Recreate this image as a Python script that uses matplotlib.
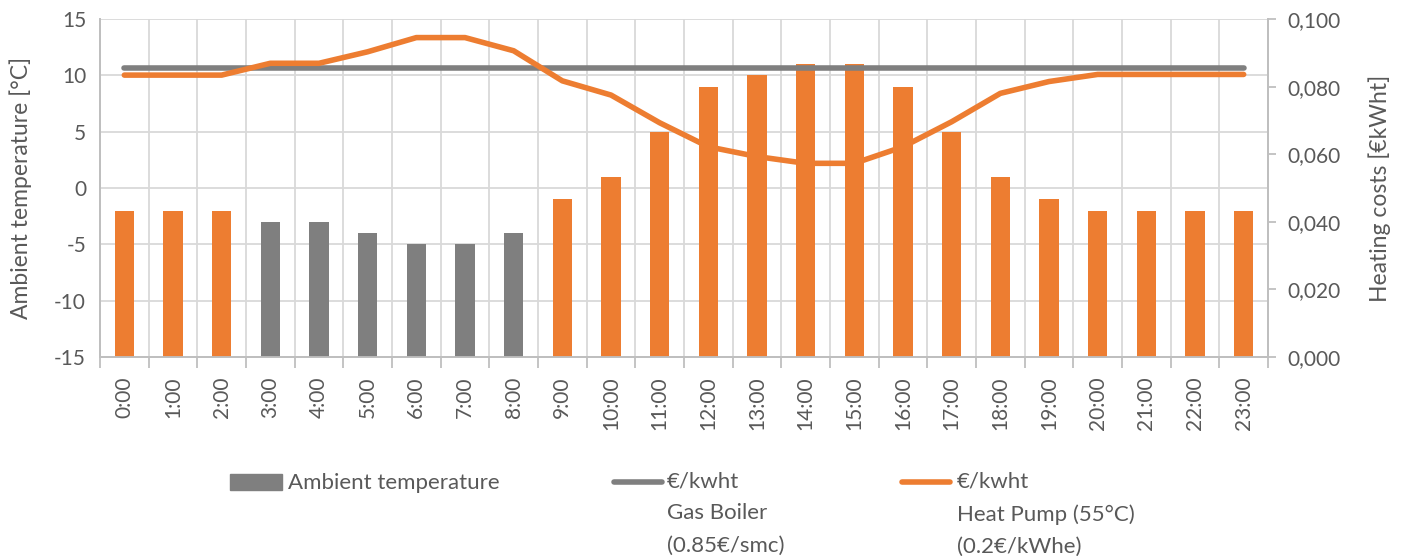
import matplotlib
matplotlib.use("Agg")
import matplotlib.pyplot as plt
from matplotlib.lines import Line2D
from matplotlib.patches import Rectangle
from matplotlib.ticker import FuncFormatter

hours = [f"{h}:00" for h in range(24)]
ambient_temp = [-2, -2, -2, -3, -3, -4, -5, -5, -4, -1, 1, 5, 9, 10, 11, 11, 9, 5, 1, -1, -2, -2, -2, -2]
gas_boiler_cost = [0.0854] * 24
heat_pump_cost = [0.0834, 0.0834, 0.0834, 0.0869, 0.0869, 0.0903, 0.0945, 0.0945, 0.0906,
                  0.0817, 0.0775, 0.0693, 0.0622, 0.0593, 0.0573, 0.0573, 0.0622, 0.0696,
                  0.0780, 0.0815, 0.0836, 0.0836, 0.0836, 0.0836]

ORANGE = "#ED7D31"
GRAY = "#7F7F7F"
GRID = "#D9D9D9"
AXIS = "#BFBFBF"
TEXT = "#595959"

plt.rcParams["font.family"] = ["Lato", "DejaVu Sans"]
plt.rcParams["axes.unicode_minus"] = False

TICK_FS = 15
LABEL_FS = 16.5
LEGEND_FS = 16

fig = plt.figure(figsize=(14.04, 5.56), dpi=100)
ax = fig.add_axes([100 / 1404, 1 - 357 / 556, (1268 - 100) / 1404, (357 - 19) / 556])
ax2 = ax.twinx()

x = list(range(len(hours)))
# bars are grey where the heat pump is more expensive than the gas boiler
bar_colors = [GRAY if hp > gb else ORANGE for hp, gb in zip(heat_pump_cost, gas_boiler_cost)]
ax.bar(x, [t + 15 for t in ambient_temp], bottom=-15, width=0.4, color=bar_colors, zorder=3)

ax.set_ylim(-15, 15)
ax.set_xlim(-0.5, 23.5)
ax.set_yticks(range(-15, 16, 5))
ax.set_xticks(x)
ax.set_xticklabels(hours, rotation=90)
ax.set_xticks([i - 0.5 for i in range(25)], minor=True)
ax.grid(True, axis="y", color=GRID, lw=1.3, zorder=0)
ax.grid(True, axis="x", which="minor", color=GRID, lw=1.3, zorder=0)
ax.tick_params(axis="x", which="major", length=0, pad=14, labelsize=TICK_FS, labelcolor=TEXT)
ax.tick_params(axis="x", which="minor", length=8, color=AXIS, width=1.3)
ax.tick_params(axis="y", length=0, pad=10, labelsize=TICK_FS, labelcolor=TEXT)
ax.set_ylabel("Ambient temperature [°C]", fontsize=LABEL_FS, color=TEXT, labelpad=16)

ax2.plot(x, gas_boiler_cost, color=GRAY, lw=4, solid_capstyle="round", zorder=4)
ax2.plot(x, heat_pump_cost, color=ORANGE, lw=4, solid_capstyle="round", zorder=5)
ax2.set_ylim(0, 0.1)
ax2.set_yticks([0, 0.02, 0.04, 0.06, 0.08, 0.1])
ax2.yaxis.set_major_formatter(FuncFormatter(lambda v, p: f"{v:.3f}".replace(".", ",")))
ax2.tick_params(axis="y", length=6, color=AXIS, width=1.3, pad=8, labelsize=TICK_FS, labelcolor=TEXT)
ax2.set_ylabel("Heating costs [€kWht]", fontsize=LABEL_FS, color=TEXT, labelpad=20)

for a in (ax, ax2):
    a.spines["top"].set_visible(False)
    for side in ("left", "right", "bottom"):
        a.spines[side].set_color(AXIS)
        a.spines[side].set_linewidth(1.3)
ax.set_zorder(1)
ax2.set_zorder(2)
ax2.patch.set_visible(False)


# legend, laid out in figure pixels
def fx(px):
    return px / 1404


def fy(py):
    return 1 - py / 556


fig.patches.append(Rectangle((fx(230), fy(490)), fx(52), 16 / 556, transform=fig.transFigure,
                             color=GRAY))
fig.text(fx(288), fy(483), "Ambient temperature", fontsize=LEGEND_FS, color=TEXT, va="center")
fig.lines.append(Line2D([fx(614), fx(662)], [fy(482), fy(482)], transform=fig.transFigure,
                        color=GRAY, lw=4, solid_capstyle="round"))
fig.text(fx(667), fy(471), "€/kwht\nGas Boiler\n(0.85€/smc)", fontsize=LEGEND_FS, color=TEXT,
         va="top", linespacing=1.78)
fig.lines.append(Line2D([fx(902), fx(950)], [fy(482), fy(482)], transform=fig.transFigure,
                        color=ORANGE, lw=4, solid_capstyle="round"))
fig.text(fx(957), fy(471), "€/kwht\nHeat Pump (55°C)\n(0.2€/kWhe)", fontsize=LEGEND_FS, color=TEXT,
         va="top", linespacing=1.78)

fig.savefig("out.png", dpi=100)
